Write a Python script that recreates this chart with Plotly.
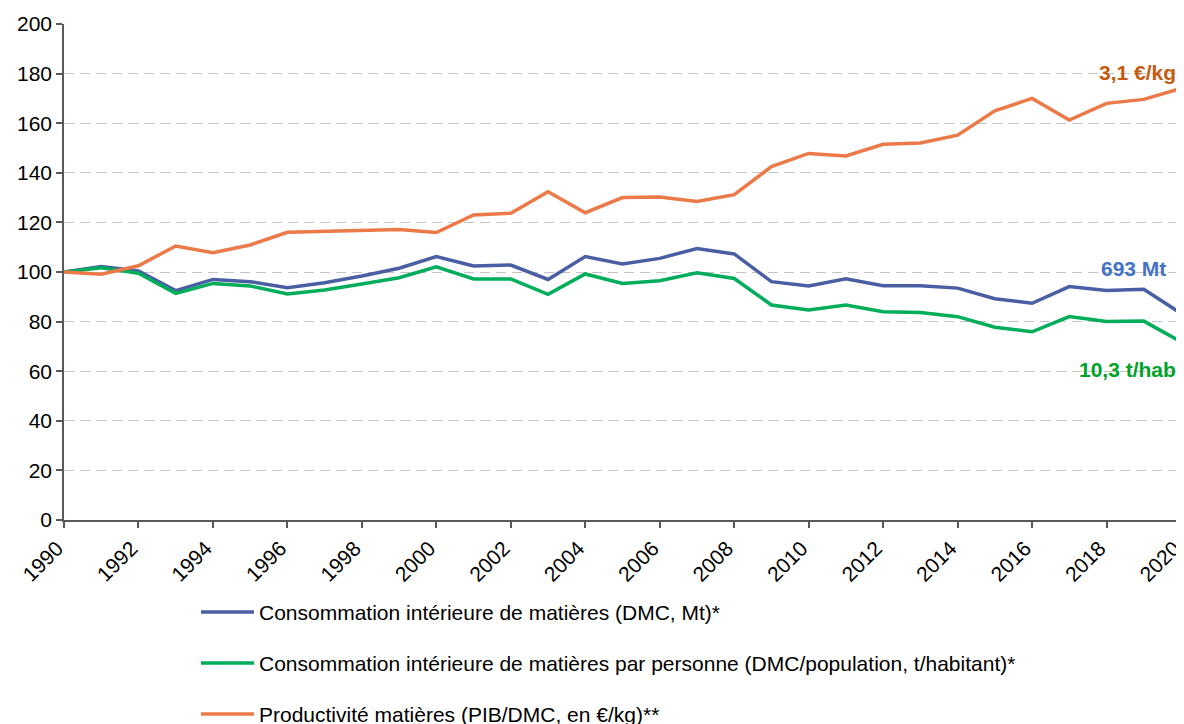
import plotly.graph_objects as go

years = list(range(1990, 2021))

dmc = [100, 102.2, 100.4, 92.5, 97.0, 96.1, 93.7, 95.7, 98.4, 101.5,
       106.2, 102.4, 102.8, 97.0, 106.2, 103.2, 105.5, 109.5, 107.3, 96.1,
       94.4, 97.3, 94.5, 94.5, 93.5, 89.2, 87.4, 94.1, 92.5, 93.0, 83.3]

dmc_per_capita = [100, 101.7, 99.5, 91.4, 95.4, 94.4, 91.1, 92.7, 95.2, 97.7,
                  102.1, 97.2, 97.2, 91.0, 99.2, 95.4, 96.5, 99.7, 97.4, 86.7,
                  84.7, 86.7, 84.0, 83.7, 82.0, 77.7, 75.9, 82.0, 80.0, 80.2, 71.9]

productivity = [100, 99.1, 102.5, 110.5, 107.8, 110.9, 116.0, 116.3, 116.8, 117.1,
                115.9, 123.0, 123.7, 132.4, 123.9, 130.0, 130.2, 128.4, 131.2, 142.5,
                147.8, 146.8, 151.5, 152.0, 155.2, 165.0, 170.0, 161.3, 168.0, 169.6, 174.0]

series_names = [
    "Consommation intérieure de matières (DMC, Mt)*",
    "Consommation intérieure de matières par personne (DMC/population, t/habitant)*",
    "Productivité matières (PIB/DMC, en €/kg)**",
]
end_labels = ["693 Mt", "10,3 t/hab", "3,1 €/kg"]
end_label_y = [101.6, 60.5, 180.6]

line_colors = ["#4A5FA3", "#00AD5A", "#EB7A48"]
label_colors = ["#4472C4", "#00A32A", "#C55A11"]

FONT = "Liberation Sans, Arial, sans-serif"

fig = go.Figure()
for name, vals, col in zip(series_names, [dmc, dmc_per_capita, productivity], line_colors):
    fig.add_trace(go.Scatter(x=years, y=vals, mode="lines", name=name,
                             line=dict(color=col, width=3.5), showlegend=False))

# Manual legend (line sample + text) below the plot; window-pixel helpers
legend_y_px = [612, 663, 714]
plot_left, plot_right, plot_top, plot_bottom = 64, 1181, 24, 520
def px_to_paper_x(px):
    return (px - plot_left) / (plot_right - plot_left)
def px_to_paper_y(py):
    return (plot_bottom - py) / (plot_bottom - plot_top)

for name, col, py in zip(series_names, line_colors, legend_y_px):
    fig.add_shape(type="line", xref="paper", yref="paper",
                  x0=px_to_paper_x(201), x1=px_to_paper_x(254),
                  y0=px_to_paper_y(py), y1=px_to_paper_y(py),
                  line=dict(color=col, width=3.5))
    fig.add_annotation(xref="paper", yref="paper", x=px_to_paper_x(257),
                       y=px_to_paper_y(py), text=name, showarrow=False,
                       xanchor="left", yanchor="middle",
                       font=dict(family=FONT, size=21, color="#000000"))

for txt, yv, col, xr in zip(end_labels, end_label_y, label_colors, [1168, 1178, 1178]):
    fig.add_annotation(xref="paper", yref="y", x=px_to_paper_x(xr), y=yv, text="<b>" + txt + "</b>",
                       showarrow=False, xanchor="right", yanchor="middle",
                       font=dict(family=FONT, size=21, color=col))

# page body has an 8px margin: shift plot area accordingly
fig.update_layout(
    width=1184, height=724,
    margin=dict(l=56, r=11, t=16, b=212),
    paper_bgcolor="white", plot_bgcolor="white",
    font=dict(family=FONT, size=21, color="#000000"),
    showlegend=False,
)
fig.update_xaxes(range=[1990, 2020], tickmode="array",
                 tickvals=list(range(1990, 2021, 2)),
                 ticktext=[str(y) for y in range(1990, 2021, 2)],
                 tickangle=-45, ticks="outside", ticklen=6, tickcolor="#595959",
                 tickwidth=1.5, showline=True, linecolor="#595959", linewidth=1.5,
                 showgrid=False, zeroline=False, automargin=False,
                 ticklabelshift=-7,
                 tickfont=dict(family=FONT, size=21, color="#000000"))
fig.update_yaxes(range=[0, 200], tickmode="array",
                 tickvals=list(range(0, 201, 20)),
                 ticks="outside", ticklen=6, tickcolor="#595959", tickwidth=1.5,
                 showline=True, linecolor="#595959", linewidth=1.5,
                 showgrid=True, gridcolor="#C4C4C4", gridwidth=1.3, griddash="10px,6px",
                 zeroline=False, automargin=False,
                 tickfont=dict(family=FONT, size=21, color="#000000"))

fig.write_html("out.html")
